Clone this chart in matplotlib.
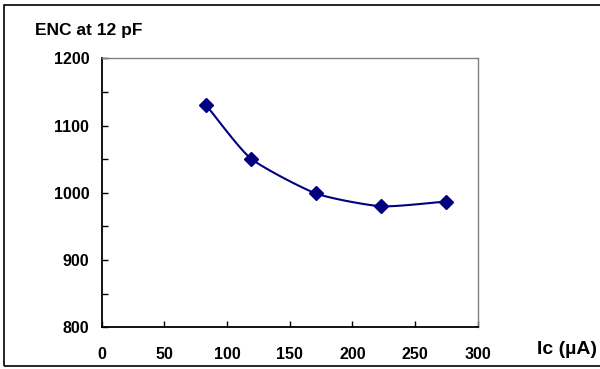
import numpy as np
import matplotlib
matplotlib.use("Agg")
import matplotlib.pyplot as plt
from matplotlib.patches import Rectangle

ic_values = [83, 119, 171, 223, 275]
enc_values = [1131, 1051, 999, 980, 987]
x_ticks = [0, 50, 100, 150, 200, 250, 300]
y_ticks = [800, 900, 1000, 1100, 1200]

plt.rcParams['font.family'] = ['Liberation Sans', 'DejaVu Sans']
plt.rcParams['font.weight'] = 'bold'

def catmull_rom(xs, ys, n=30):
    xs = np.asarray(xs, float); ys = np.asarray(ys, float)
    px = np.concatenate([[2*xs[0]-xs[1]], xs, [2*xs[-1]-xs[-2]]])
    py = np.concatenate([[2*ys[0]-ys[1]], ys, [2*ys[-1]-ys[-2]]])
    outx, outy = [], []
    for i in range(1, len(px)-2):
        t = np.linspace(0, 1, n)
        for arr, out in ((px, outx), (py, outy)):
            p0, p1, p2, p3 = arr[i-1], arr[i], arr[i+1], arr[i+2]
            m1 = (p2 - p0) / 2 * 0.6
            m2 = (p3 - p1) / 2 * 0.6
            h00 = 2*t**3 - 3*t**2 + 1
            h10 = t**3 - 2*t**2 + t
            h01 = -2*t**3 + 3*t**2
            h11 = t**3 - t**2
            out.extend(h00*p1 + h10*m1 + h01*p2 + h11*m2)
    return np.array(outx), np.array(outy)

fig = plt.figure(figsize=(6.0, 3.69), dpi=100)
ax = fig.add_axes([101.7/600, 1-327.3/369, (477.7-101.7)/600, (327.3-58.3)/369])

sx, sy = catmull_rom(ic_values, enc_values)
ax.plot(sx, sy, color='#000080', lw=1.5, solid_capstyle='round')
ax.plot(ic_values, enc_values, linestyle='none', marker='D', ms=7,
        color='#000080')

ax.set_xlim(0, 300)
ax.set_ylim(800, 1200)
ax.set_xticks(x_ticks)
ax.set_yticks(y_ticks)
ax.set_yticks(np.arange(850, 1200, 100), minor=True)
ax.tick_params(axis='both', direction='in', length=4, width=1, labelsize=11.5)
ax.tick_params(axis='y', which='minor', direction='in', length=4, width=1)
ax.tick_params(axis='x', pad=14)
ax.tick_params(axis='y', pad=9)
for lbl in ax.get_xticklabels() + ax.get_yticklabels():
    lbl.set_fontweight('bold')
for s in ['left', 'bottom']:
    ax.spines[s].set_linewidth(1.3)
    ax.spines[s].set_color('black')
for s in ['top', 'right']:
    ax.spines[s].set_linewidth(1.0)
    ax.spines[s].set_color('#808080')

fig.text(35/600, 1-30/369, 'ENC at 12 pF', fontsize=12.5, fontweight='bold',
         ha='left', va='center')
fig.text(537/600, 1-349/369, 'Ic (µA)', fontsize=14, fontweight='bold',
         ha='left', va='center')

fig.patches.append(Rectangle((4/600, 3/369), 1.0, 1-8/369,
                             transform=fig.transFigure, fill=False,
                             edgecolor='black', lw=1.2))

fig.savefig('out.png', dpi=100)
